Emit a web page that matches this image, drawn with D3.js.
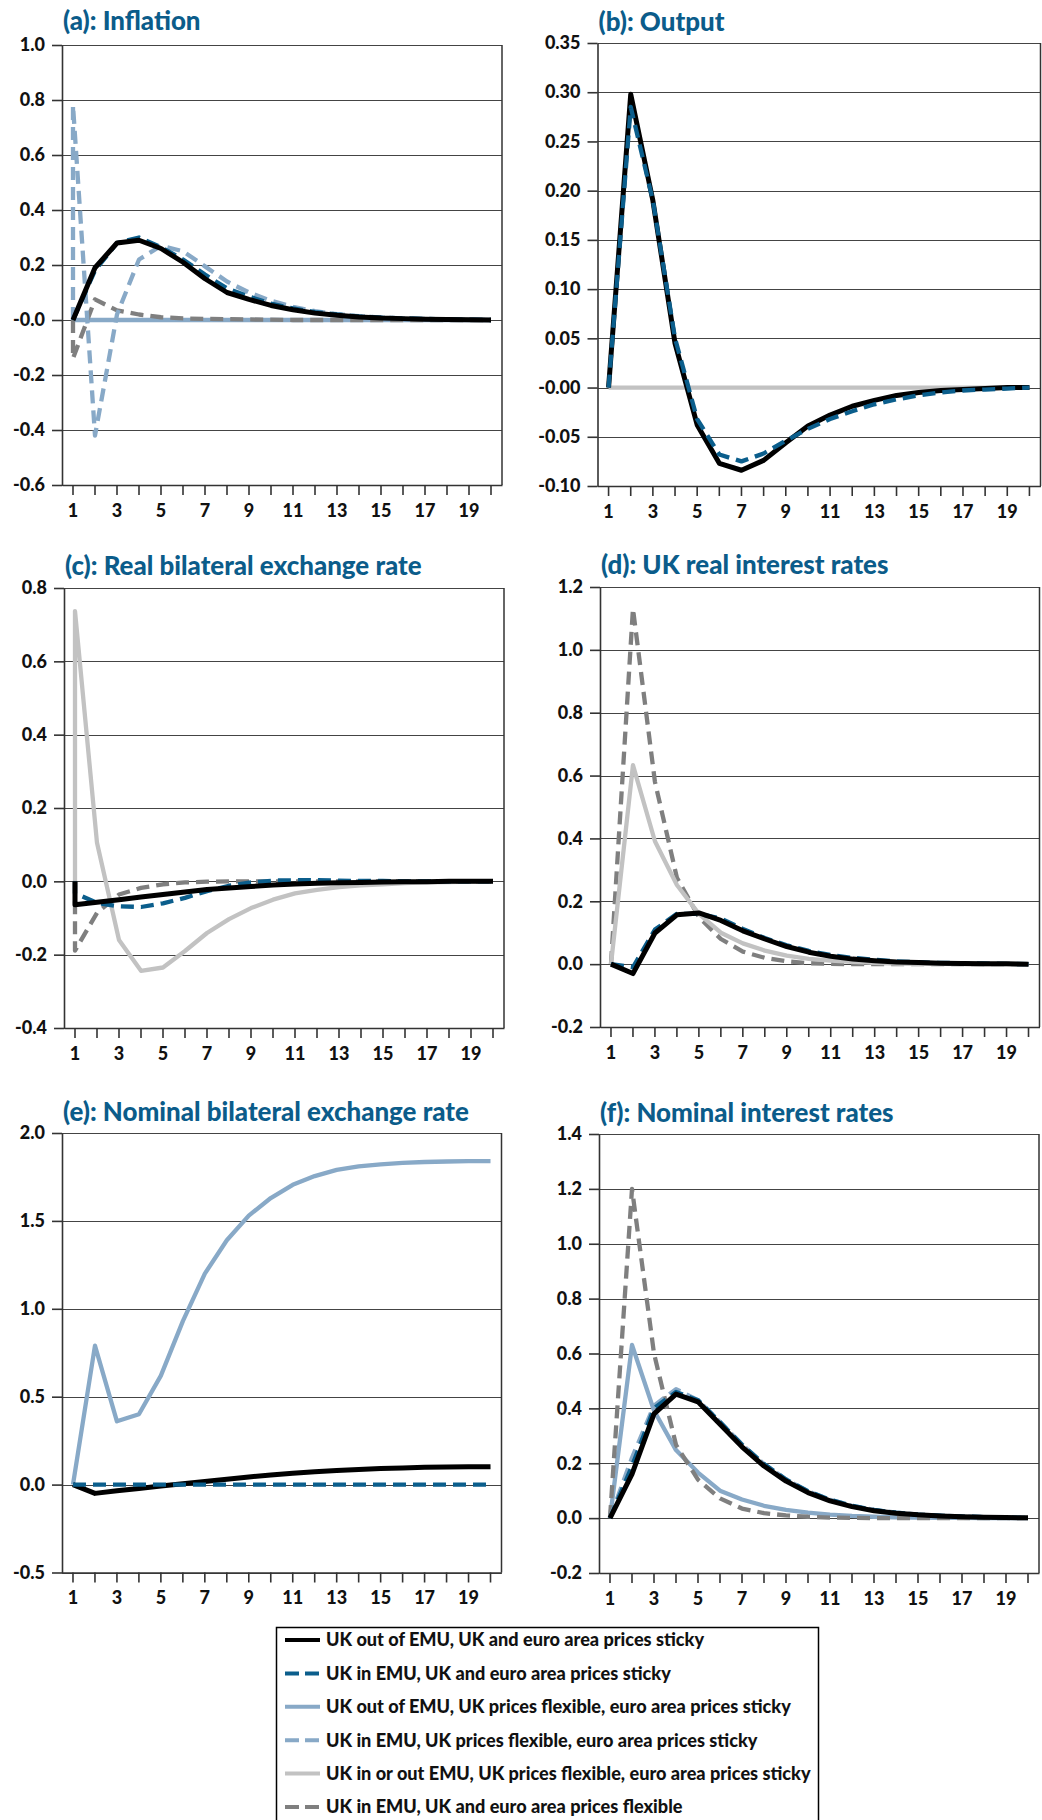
<!DOCTYPE html>
<html>
<head>
<meta charset="utf-8">
<script src="https://cdn.jsdelivr.net/npm/d3@7"></script>
<style>
  body { margin: 0; background: #fff; }
  svg { display: block; font-family: Lato, "Open Sans", sans-serif; font-weight: 900; }
</style>
</head>
<body>
<div id="chart"></div>
<script>
// periods after the shock
const periods = d3.range(1, 21);

const seriesNames = [
  "UK out of EMU, UK and euro area prices sticky",
  "UK in EMU, UK and euro area prices sticky",
  "UK out of EMU, UK prices flexible, euro area prices sticky",
  "UK in EMU, UK prices flexible, euro area prices sticky",
  "UK in or out EMU, UK prices flexible, euro area prices sticky",
  "UK in EMU, UK and euro area prices flexible"
];
const seriesColors = ["#000000", "#0b5e8c", "#88a9c7", "#88a9c7", "#c2c2c2", "#7f7f7f"];
const seriesDash = [null, "13,7", null, "13,7", null, "13,7"];

// (a) Inflation
const aOutSticky = [0, 0.19, 0.28, 0.29, 0.26, 0.21, 0.15, 0.10, 0.075, 0.053, 0.037, 0.025, 0.017, 0.011, 0.007, 0.005, 0.003, 0.002, 0.001, 0];
const aInSticky = [0, 0.18, 0.28, 0.30, 0.265, 0.22, 0.165, 0.115, 0.085, 0.06, 0.042, 0.029, 0.02, 0.013, 0.009, 0.006, 0.004, 0.002, 0.001, 0];
const aOutFlex = [0, 0, 0, 0, 0, 0, 0, 0, 0, 0, 0, 0, 0, 0, 0, 0, 0, 0, 0, 0];
const aInFlex = [0.78, -0.42, 0.02, 0.22, 0.27, 0.25, 0.195, 0.14, 0.10, 0.07, 0.048, 0.032, 0.021, 0.014, 0.009, 0.006, 0.004, 0.002, 0.001, 0];
const aInFlexAll = [-0.14, 0.075, 0.035, 0.02, 0.01, 0.006, 0.004, 0.003, 0.002, 0.001, 0, 0, 0, 0, 0, 0, 0, 0, 0, 0];
const aTicks = [1.0, 0.8, 0.6, 0.4, 0.2, 0, -0.2, -0.4, -0.6];
const aTickLabels = ["1.0", "0.8", "0.6", "0.4", "0.2", "-0.0", "-0.2", "-0.4", "-0.6"];

// (b) Output
const bOutSticky = [0, 0.298, 0.19, 0.045, -0.038, -0.077, -0.084, -0.074, -0.056, -0.039, -0.028, -0.019, -0.013, -0.008, -0.005, -0.003, -0.002, -0.001, 0, 0];
const bInSticky = [0, 0.285, 0.19, 0.05, -0.032, -0.068, -0.075, -0.067, -0.054, -0.042, -0.032, -0.024, -0.017, -0.012, -0.008, -0.005, -0.003, -0.002, -0.001, 0];
const bInOrOutFlex = [0, 0, 0, 0, 0, 0, 0, 0, 0, 0, 0, 0, 0, 0, 0, 0, 0, 0, 0, 0];
const bTicks = [0.35, 0.30, 0.25, 0.20, 0.15, 0.10, 0.05, 0, -0.05, -0.10];
const bTickLabels = ["0.35", "0.30", "0.25", "0.20", "0.15", "0.10", "0.05", "-0.00", "-0.05", "-0.10"];

// (c) Real bilateral exchange rate
const cOutSticky = [-0.064, -0.057, -0.05, -0.043, -0.036, -0.029, -0.022, -0.018, -0.014, -0.01, -0.007, -0.005, -0.004, -0.003, -0.002, -0.001, -0.001, 0, 0, 0];
const cInSticky = [-0.032, -0.059, -0.068, -0.07, -0.06, -0.045, -0.027, -0.012, -0.003, 0.002, 0.003, 0.003, 0.002, 0.001, 0.001, 0, 0, 0, 0, 0];
const cInOrOutFlex = [0.737, 0.105, -0.16, -0.244, -0.235, -0.19, -0.141, -0.103, -0.073, -0.05, -0.033, -0.023, -0.016, -0.011, -0.008, -0.005, -0.003, -0.002, -0.001, 0];
const cInFlexAll = [-0.189, -0.086, -0.036, -0.018, -0.008, -0.003, -0.001, 0, 0, 0, 0, 0, 0, 0, 0, 0, 0, 0, 0, 0];
const cTicks = [0.8, 0.6, 0.4, 0.2, 0, -0.2, -0.4];
const cTickLabels = ["0.8", "0.6", "0.4", "0.2", "0.0", "-0.2", "-0.4"];

// (d) UK real interest rates
const dOutSticky = [0, -0.03, 0.099, 0.157, 0.163, 0.139, 0.106, 0.08, 0.056, 0.038, 0.025, 0.016, 0.011, 0.007, 0.005, 0.003, 0.002, 0.001, 0.001, 0];
const dInSticky = [0, -0.01, 0.11, 0.16, 0.16, 0.145, 0.112, 0.083, 0.06, 0.042, 0.029, 0.02, 0.014, 0.009, 0.006, 0.004, 0.003, 0.002, 0.001, 0];
const dInOrOutFlex = [0, 0.633, 0.391, 0.252, 0.16, 0.1, 0.066, 0.043, 0.027, 0.017, 0.011, 0.007, 0.004, 0.002, 0.001, 0.001, 0, 0, 0, 0];
const dInFlexAll = [0, 1.131, 0.58, 0.275, 0.15, 0.08, 0.04, 0.02, 0.009, 0.003, 0.001, 0, 0, 0, 0, 0, 0, 0, 0, 0];
const dTicks = [1.2, 1.0, 0.8, 0.6, 0.4, 0.2, 0, -0.2];
const dTickLabels = ["1.2", "1.0", "0.8", "0.6", "0.4", "0.2", "0.0", "-0.2"];

// (e) Nominal bilateral exchange rate
const eOutSticky = [0, -0.05, -0.035, -0.022, -0.008, 0.005, 0.018, 0.031, 0.043, 0.055, 0.065, 0.073, 0.08, 0.086, 0.091, 0.095, 0.098, 0.1, 0.101, 0.102];
const eInSticky = [0, 0, 0, 0, 0, 0, 0, 0, 0, 0, 0, 0, 0, 0, 0, 0, 0, 0, 0, 0];
const eOutFlex = [0, 0.79, 0.36, 0.40, 0.62, 0.93, 1.2, 1.39, 1.53, 1.63, 1.705, 1.755, 1.79, 1.81, 1.822, 1.83, 1.835, 1.838, 1.84, 1.84];
const eTicks = [2.0, 1.5, 1.0, 0.5, 0, -0.5];
const eTickLabels = ["2.0", "1.5", "1.0", "0.5", "0.0", "-0.5"];

// (f) Nominal interest rates
const fOutSticky = [0, 0.16, 0.38, 0.452, 0.424, 0.342, 0.26, 0.19, 0.135, 0.093, 0.063, 0.042, 0.027, 0.018, 0.012, 0.008, 0.005, 0.003, 0.002, 0.001];
const fInSticky = [0, 0.19, 0.40, 0.46, 0.43, 0.35, 0.268, 0.197, 0.141, 0.098, 0.067, 0.045, 0.03, 0.02, 0.013, 0.009, 0.006, 0.004, 0.002, 0.001];
const fOutFlex = [0, 0.631, 0.392, 0.248, 0.166, 0.1, 0.068, 0.045, 0.03, 0.02, 0.013, 0.008, 0.005, 0.003, 0.002, 0.001, 0.001, 0, 0, 0];
const fInFlex = [0, 0.22, 0.41, 0.47, 0.43, 0.35, 0.268, 0.197, 0.141, 0.098, 0.067, 0.045, 0.03, 0.02, 0.013, 0.009, 0.006, 0.004, 0.002, 0.001];
const fInFlexAll = [0, 1.2, 0.6, 0.267, 0.14, 0.072, 0.035, 0.018, 0.01, 0.005, 0.002, 0.001, 0, 0, 0, 0, 0, 0, 0, 0];
const fTicks = [1.4, 1.2, 1.0, 0.8, 0.6, 0.4, 0.2, 0, -0.2];
const fTickLabels = ["1.4", "1.2", "1.0", "0.8", "0.6", "0.4", "0.2", "0.0", "-0.2"];

// panel layout; lines listed in drawing order as [series index, values]
const panels = [
  { title: "(a): Inflation", left: 62, right: 502, top: 45, bottom: 485, titleY: 30,
    ticks: aTicks, labels: aTickLabels,
    lines: [[2, aOutFlex], [5, aInFlexAll], [3, aInFlex], [1, aInSticky], [0, aOutSticky]] },
  { title: "(b): Output", left: 597.5, right: 1040.5, top: 43, bottom: 486, titleY: 31,
    ticks: bTicks, labels: bTickLabels,
    lines: [[4, bInOrOutFlex], [0, bOutSticky], [1, bInSticky]] },
  { title: "(c): Real bilateral exchange rate", left: 64, right: 504, top: 588, bottom: 1028, titleY: 575,
    ticks: cTicks, labels: cTickLabels,
    lines: [[4, cInOrOutFlex], [5, cInFlexAll], [1, cInSticky], [0, cOutSticky]] },
  { title: "(d): UK real interest rates", left: 600, right: 1039.5, top: 587, bottom: 1027, titleY: 574,
    ticks: dTicks, labels: dTickLabels,
    lines: [[5, dInFlexAll], [4, dInOrOutFlex], [1, dInSticky], [0, dOutSticky]] },
  { title: "(e): Nominal bilateral exchange rate", left: 62, right: 501.5, top: 1133, bottom: 1572.5, titleY: 1121,
    ticks: eTicks, labels: eTickLabels,
    lines: [[2, eOutFlex], [0, eOutSticky], [1, eInSticky]] },
  { title: "(f): Nominal interest rates", left: 599, right: 1039, top: 1134, bottom: 1573, titleY: 1122,
    ticks: fTicks, labels: fTickLabels,
    lines: [[2, fOutFlex], [5, fInFlexAll], [3, fInFlex], [1, fInSticky], [0, fOutSticky]] }
];

const svg = d3.select("#chart")
  .append("svg")
  .attr("width", 1042)
  .attr("height", 1820);

const titles = [];

panels.forEach(p => {
  const g = svg.append("g");

  const x = d3.scaleBand().domain(periods).range([p.left, p.right]);
  const y = d3.scaleLinear().domain([d3.min(p.ticks), d3.max(p.ticks)]).range([p.bottom, p.top]);
  const cx = d => x(d) + x.bandwidth() / 2;

  titles.push(g.append("text")
    .attr("x", p.left + 1)
    .attr("y", p.titleY)
    .attr("fill", "#0b5c8a")
    .style("font-size", "24px")
    .text(p.title));

  // horizontal grid
  g.append("g")
    .selectAll("line")
    .data(p.ticks)
    .join("line")
    .attr("x1", p.left)
    .attr("x2", p.right)
    .attr("y1", d => Math.round(y(d)) + 0.5)
    .attr("y2", d => Math.round(y(d)) + 0.5)
    .attr("stroke", "#444")
    .attr("stroke-width", 1.2);

  // frame on the right
  g.append("line")
    .attr("x1", p.right).attr("x2", p.right)
    .attr("y1", p.top).attr("y2", p.bottom)
    .attr("stroke", "#333")
    .attr("stroke-width", 1.5);

  const yAxis = g.append("g")
    .attr("transform", `translate(${p.left},0)`)
    .call(d3.axisLeft(y)
      .tickValues(p.ticks)
      .tickFormat((d, i) => p.labels[i])
      .tickSize(10)
      .tickSizeOuter(0)
      .tickPadding(7));

  const xAxis = g.append("g")
    .attr("transform", `translate(0,${p.bottom})`)
    .call(d3.axisBottom(x)
      .tickFormat(d => d % 2 ? d : "")
      .tickSize(10)
      .tickSizeOuter(0)
      .tickPadding(9));

  [yAxis, xAxis].forEach(a => {
    a.selectAll("path, line").attr("stroke", "#333").attr("stroke-width", 1.6);
    a.selectAll("text")
      .attr("fill", "#111")
      .style("font-size", "18px")
      .style("font-family", "Lato, sans-serif")
      .style("font-weight", 900);
  });

  const line = d3.line()
    .x(d => cx(d[0]))
    .y(d => y(d[1]));

  p.lines.forEach(([s, values]) => {
    // every response starts from the steady state (0) in period 1
    const pts = [[1, 0]].concat(values.map((v, i) => [periods[i], v]));
    g.append("path")
      .datum(pts)
      .attr("fill", "none")
      .attr("stroke", seriesColors[s])
      .attr("stroke-width", s === 0 ? 5 : 4.3)
      .attr("stroke-dasharray", seriesDash[s])
      .attr("stroke-linejoin", "round")
      .attr("d", line);
  });
});

// title size set so the widest title spans about 406px, as in the original
const wideTitle = titles[4].node().getComputedTextLength();
const titleSize = 24 * 406 / wideTitle;
titles.forEach(t => t.style("font-size", titleSize + "px"));

// legend
const legend = svg.append("g");

legend.append("rect")
  .attr("x", 276.5)
  .attr("y", 1627.5)
  .attr("width", 542)
  .attr("height", 240)
  .attr("fill", "none")
  .attr("stroke", "#000")
  .attr("stroke-width", 1.5);

const rowY = d3.scalePoint().domain(d3.range(6)).range([1640, 1807]);

const legendTexts = seriesNames.map((name, i) => {
  legend.append("line")
    .attr("x1", 285)
    .attr("x2", 320)
    .attr("y1", rowY(i))
    .attr("y2", rowY(i))
    .attr("stroke", seriesColors[i])
    .attr("stroke-width", 4)
    .attr("stroke-dasharray", seriesDash[i] ? "14,6" : null);

  return legend.append("text")
    .attr("x", 326)
    .attr("y", rowY(i))
    .attr("dy", "0.35em")
    .attr("fill", "#111")
    .style("font-size", "16px")
    .text(name);
});

// longest legend entry ends near x = 811
const wideLegend = legendTexts[4].node().getComputedTextLength();
const legendSize = 16 * 485 / wideLegend;
legendTexts.forEach(t => t.style("font-size", legendSize + "px"));
</script>
</body>
</html>
